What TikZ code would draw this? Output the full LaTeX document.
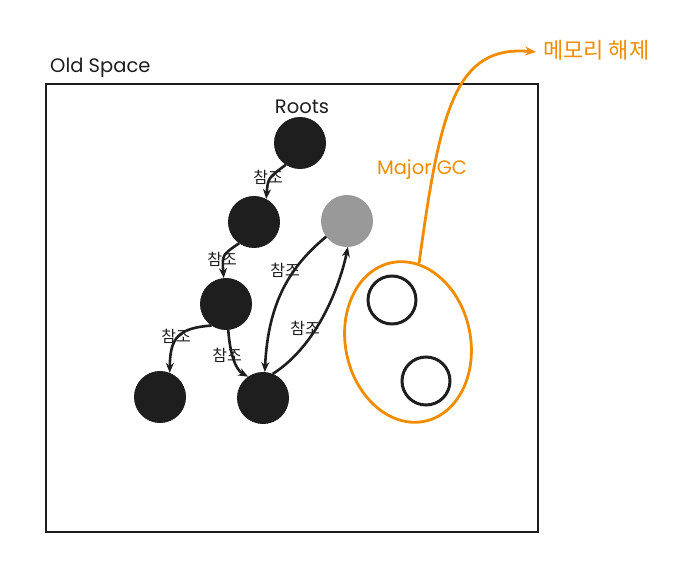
\documentclass[tikz,border=0pt]{standalone}
\usepackage{fontspec}
\setmainfont{Noto Sans CJK KR}
\newfontfamily\handfont{Poppins}
\usepackage{xcolor}
\definecolor{gcOrange}{RGB}{240, 140, 0}
\definecolor{objBlack}{RGB}{30, 30, 30}
\definecolor{objGray}{RGB}{153, 153, 153}
\usetikzlibrary{shapes.geometric, arrows.meta}

\begin{document}
\begin{tikzpicture}[x=1pt, y=-1pt,
    space/.style={
        rectangle, draw=objBlack, line width=2.8pt,
        minimum width=492pt, minimum height=448pt, inner sep=0pt
    },
    obj/.style={
        circle, draw=objBlack, fill=objBlack, line width=1pt,
        minimum size=51pt, inner sep=0pt
    },
    freed/.style={
        circle, draw=objBlack, fill=white, line width=3pt,
        minimum size=48pt, inner sep=0pt
    },
    lbl/.style={font=\fontsize{16}{18}\selectfont, text=objBlack, inner sep=0pt},
    hlbl/.style={font=\handfont\fontsize{19.5}{21}\selectfont, text=objBlack, inner sep=0pt},
    olbl/.style={font=\handfont\fontsize{19.5}{21}\selectfont, text=gcOrange, inner sep=0pt},
    ref/.style={-{Stealth[length=10pt, width=8pt]}, line width=2.6pt, objBlack},
    gcarr/.style={-{Stealth[length=11pt, width=9pt]}, line width=2.8pt, gcOrange}
]
\useasboundingbox (0,0) rectangle (686,580);

\node[space] (old) at (292,308) {};
\node[hlbl, anchor=west] (oldlbl) at (50,68) {Old Space};

% objects
\node[hlbl] (rootlbl) at (302,107) {Roots};
\node[obj] (root) at (300,143) {};
\node[obj] (a) at (254,222) {};
\node[obj, draw=objGray, fill=objGray] (g) at (347,221) {};
\node[obj] (b) at (226,304) {};
\node[obj] (c) at (160,397) {};
\node[obj] (d) at (263,398) {};

% references
\draw[ref] (root.237) .. controls (268,178) .. (a.62);
\draw[ref] (a.235) .. controls (222,255) .. (b.95);
\draw[ref] (b.236) .. controls (178,328) and (170,338) .. (c.68);
\draw[ref] (b.275) .. controls (230,355) and (236,370) .. (d.125);
\draw[ref] (g.217) .. controls (288,268) and (268,305) .. (d.86);
\draw[ref] (d.68) .. controls (318,345) and (340,285) .. (g.272);

\node[lbl] (r1) at (268,177) {참조};
\node[lbl] (r2) at (222,259) {참조};
\node[lbl] (r3) at (176,336) {참조};
\node[lbl] (r4) at (227,355) {참조};
\node[lbl] (r5) at (285,270) {참조};
\node[lbl] (r6) at (305,328) {참조};

% garbage
\node[ellipse, draw=gcOrange, line width=2.8pt, rotate=12,
      minimum width=125pt, minimum height=162pt, inner sep=0pt] (gc) at (408,342) {};
\node[freed] (f1) at (392,300) {};
\node[freed] (f2) at (426,381) {};

\coordinate (free) at (536,52);
\draw[gcarr] (gc.70) .. controls (440,110) and (455,45) .. (free);
\node[olbl] (gclbl) at (422,170) {Major GC};
\node[lbl, anchor=west, text=gcOrange, font=\fontsize{22}{24}\selectfont] (freelbl) at (543,50) {메모리 해제};

\end{tikzpicture}
\end{document}
